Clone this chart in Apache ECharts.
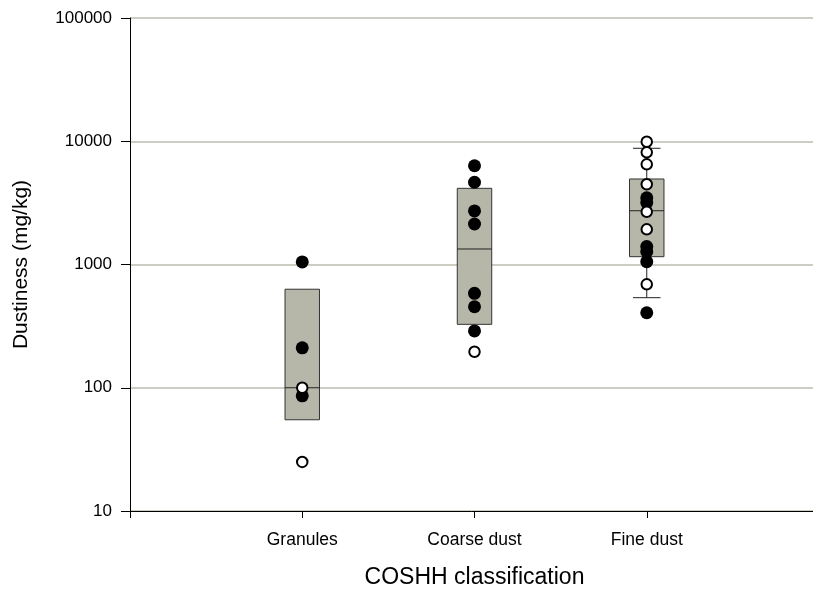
<!DOCTYPE html>
<html>
<head>
<meta charset="utf-8">
<script src="https://cdn.jsdelivr.net/npm/echarts@6/dist/echarts.min.js"></script>
<style>
html,body{margin:0;padding:0;background:#fff;}
#chart{width:813px;height:591px;}
</style>
</head>
<body>
<div id="chart"></div>
<script>
// ---- Data ----
const categories = ['Granules', 'Coarse dust', 'Fine dust'];
const categoryPos = [1, 2, 3];
const yTickLabels = [10, 100, 1000, 10000, 100000];

// Box statistics per category (25th, median, 75th percentile), whiskers (null = none)
const boxQ1     = [55, 327, 1157];
const boxMedian = [100, 1336, 2730];
const boxQ3     = [630, 4150, 4940];
const whiskerLow  = [null, null, 538];
const whiskerHigh = [null, null, 8770];

// Individual samples: filled and open symbols
const granulesFilled = [1050, 211, 86];
const granulesOpen   = [100, 25];
const coarseFilled   = [6330, 4650, 2720, 2130, 584, 454, 289];
const coarseOpen     = [196];
const fineFilled     = [3480, 3180, 1400, 1270, 1055, 406];
const fineOpen       = [9900, 8130, 6500, 4480, 2680, 1930, 690];

// ---- Build series data ----
function pts(pos, arr){ return arr.map(v => [pos, v]); }
const filledData = [].concat(
  pts(categoryPos[0], granulesFilled),
  pts(categoryPos[1], coarseFilled),
  pts(categoryPos[2], fineFilled)
);
const openData = [].concat(
  pts(categoryPos[0], granulesOpen),
  pts(categoryPos[1], coarseOpen),
  pts(categoryPos[2], fineOpen)
);
const boxData = categoryPos.map((p, i) => [p, boxQ1[i], boxMedian[i], boxQ3[i]]);

const FONT = "'Liberation Sans', Arial, sans-serif";
const chart = echarts.init(document.getElementById('chart'), null, {renderer: 'canvas'});

function renderBox(params, api) {
  const i = params.dataIndex;
  const x = api.value(0);
  const pQ1 = api.coord([x, api.value(1)]);
  const pMed = api.coord([x, api.value(2)]);
  const pQ3 = api.coord([x, api.value(3)]);
  const bw = api.size([0.2, 0])[0];
  const cw = api.size([0.16, 0])[0];
  const cx = pMed[0];
  const children = [];
  const lineStyle = {stroke: '#222', lineWidth: 1, fill: null};
  if (whiskerLow[i] != null) {
    const pL = api.coord([x, whiskerLow[i]]);
    children.push({type: 'line', shape: {x1: cx, y1: pQ1[1], x2: cx, y2: pL[1]}, style: lineStyle});
    children.push({type: 'line', shape: {x1: cx - cw/2, y1: pL[1], x2: cx + cw/2, y2: pL[1]}, style: lineStyle});
  }
  if (whiskerHigh[i] != null) {
    const pH = api.coord([x, whiskerHigh[i]]);
    children.push({type: 'line', shape: {x1: cx, y1: pQ3[1], x2: cx, y2: pH[1]}, style: lineStyle});
    children.push({type: 'line', shape: {x1: cx - cw/2, y1: pH[1], x2: cx + cw/2, y2: pH[1]}, style: lineStyle});
  }
  children.push({
    type: 'rect',
    shape: {x: cx - bw/2, y: pQ3[1], width: bw, height: pQ1[1] - pQ3[1]},
    style: {fill: '#b7b7a9', stroke: '#333', lineWidth: 1}
  });
  children.push({type: 'line', shape: {x1: cx - bw/2, y1: pMed[1], x2: cx + bw/2, y2: pMed[1]}, style: lineStyle});
  return {type: 'group', children: children};
}

chart.setOption({
  animation: false,
  backgroundColor: '#ffffff',
  grid: {left: 130, right: -6, top: 18, bottom: 80, containLabel: false, outerBoundsMode: 'none'},
  xAxis: {
    type: 'value',
    min: 0, max: 4,
    name: 'COSHH classification',
    nameLocation: 'middle',
    nameGap: 55,
    nameTextStyle: {fontFamily: FONT, fontSize: 23, color: '#000'},
    axisLine: {show: true, onZero: false, lineStyle: {color: '#000', width: 1}},
    axisTick: {show: true, length: 7, customValues: [0, 1, 2, 3], lineStyle: {color: '#000'}},
    axisLabel: {
      customValues: categoryPos,
      margin: 20,
      fontFamily: FONT, fontSize: 17.5, color: '#000',
      formatter: v => categories[categoryPos.indexOf(Math.round(v))] || ''
    },
    splitLine: {show: false}
  },
  yAxis: {
    type: 'log',
    logBase: 10,
    min: yTickLabels[0],
    max: yTickLabels[yTickLabels.length - 1],
    name: 'Dustiness (mg/kg)',
    nameLocation: 'middle',
    nameGap: 98,
    nameTextStyle: {fontFamily: FONT, fontSize: 21, color: '#000'},
    axisLine: {show: true, lineStyle: {color: '#000', width: 1}},
    axisTick: {show: true, length: 9, lineStyle: {color: '#000'}},
    minorTick: {show: false},
    axisLabel: {
      margin: 18,
      fontFamily: FONT, fontSize: 17, color: '#000',
      formatter: v => String(Math.round(v))
    },
    splitLine: {show: true, lineStyle: {color: '#bdbdaf', width: 1.5}}
  },
  series: [
    {
      type: 'custom',
      renderItem: renderBox,
      data: boxData,
      encode: {x: 0, y: [1, 2, 3]},
      z: 2,
      silent: true
    },
    {
      type: 'scatter',
      data: filledData,
      symbol: 'circle',
      symbolSize: 13,
      itemStyle: {color: '#000', opacity: 1},
      z: 3
    },
    {
      type: 'scatter',
      data: openData,
      symbol: 'circle',
      symbolSize: 10.5,
      itemStyle: {color: '#fff', borderColor: '#000', borderWidth: 2, opacity: 1},
      z: 4
    }
  ]
});
</script>
</body>
</html>
